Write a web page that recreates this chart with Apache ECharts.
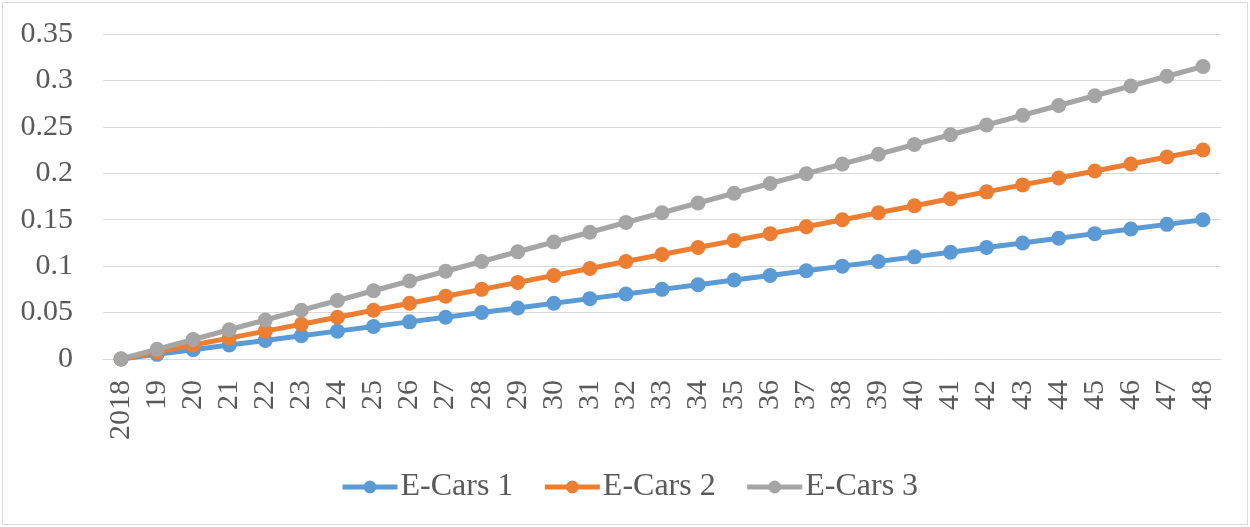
<!DOCTYPE html>
<html>
<head>
<meta charset="utf-8">
<style>
  html, body { margin: 0; padding: 0; background: #fff; }
  #chart { width: 1250px; height: 527px; }
</style>
<script src="https://cdn.jsdelivr.net/npm/echarts@6/dist/echarts.min.js"></script>
</head>
<body>
<div id="chart"></div>
<script>
// Years on the horizontal axis
const years = ['2018', '19', '20', '21', '22', '23', '24', '25', '26', '27', '28', '29', '30',
  '31', '32', '33', '34', '35', '36', '37', '38', '39', '40', '41', '42', '43', '44', '45',
  '46', '47', '48'];

// Share values per scenario
const eCars1 = [0, 0.005, 0.01, 0.015, 0.02, 0.025, 0.03, 0.035, 0.04, 0.045, 0.05, 0.055,
  0.06, 0.065, 0.07, 0.075, 0.08, 0.085, 0.09, 0.095, 0.1, 0.105, 0.11, 0.115, 0.12, 0.125,
  0.13, 0.135, 0.14, 0.145, 0.15];
const eCars2 = [0, 0.0075, 0.015, 0.0225, 0.03, 0.0375, 0.045, 0.0525, 0.06, 0.0675, 0.075,
  0.0825, 0.09, 0.0975, 0.105, 0.1125, 0.12, 0.1275, 0.135, 0.1425, 0.15, 0.1575, 0.165,
  0.1725, 0.18, 0.1875, 0.195, 0.2025, 0.21, 0.2175, 0.225];
const eCars3 = [0, 0.0105, 0.021, 0.0315, 0.042, 0.0525, 0.063, 0.0735, 0.084, 0.0945, 0.105,
  0.1155, 0.126, 0.1365, 0.147, 0.1575, 0.168, 0.1785, 0.189, 0.1995, 0.21, 0.2205, 0.231,
  0.2415, 0.252, 0.2625, 0.273, 0.2835, 0.294, 0.3045, 0.315];

const seriesNames = ['E-Cars 1', 'E-Cars 2', 'E-Cars 3'];
const seriesColors = ['#5B9BD5', '#ED7D31', '#A5A5A5'];
const seriesData = [eCars1, eCars2, eCars3];

const font = '"Liberation Serif", "Times New Roman", serif';
const textColor = '#595959';

const chart = echarts.init(document.getElementById('chart'), null, { renderer: 'canvas' });

chart.setOption({
  backgroundColor: '#ffffff',
  animation: false,
  graphic: [{
    type: 'rect',
    shape: { x: 2.5, y: 2.5, width: 1245, height: 522 },
    style: { fill: 'none', stroke: '#D9D9D9', lineWidth: 1 },
    silent: true
  }],
  grid: { left: 103, right: 29, top: 34, bottom: 168 },
  legend: {
    data: seriesNames,
    top: 471,
    left: 340,
    padding: 0,
    itemWidth: 55,
    itemHeight: 16,
    itemGap: 29,
    lineStyle: { width: 5 },
    textStyle: { fontFamily: font, fontSize: 32, color: textColor, padding: [0, 0, 0, -2] }
  },
  xAxis: {
    type: 'category',
    data: years,
    boundaryGap: true,
    axisLine: { show: true, lineStyle: { color: '#D9D9D9', width: 1 } },
    axisTick: { show: false },
    axisLabel: {
      rotate: 90,
      interval: 0,
      margin: 21,
      fontFamily: font,
      fontSize: 30,
      color: textColor
    }
  },
  yAxis: {
    type: 'value',
    min: 0,
    max: 0.35,
    interval: 0.05,
    axisLine: { show: false },
    axisTick: { show: false },
    splitLine: { lineStyle: { color: '#D9D9D9', width: 1 } },
    axisLabel: {
      margin: 30,
      fontFamily: font,
      fontSize: 30,
      color: textColor
    }
  },
  series: seriesNames.map((name, i) => ({
    name: name,
    type: 'line',
    data: seriesData[i],
    symbol: 'circle',
    symbolSize: 15,
    color: seriesColors[i],
    lineStyle: { width: 5, color: seriesColors[i] },
    itemStyle: { color: seriesColors[i] }
  }))
});
</script>
</body>
</html>
